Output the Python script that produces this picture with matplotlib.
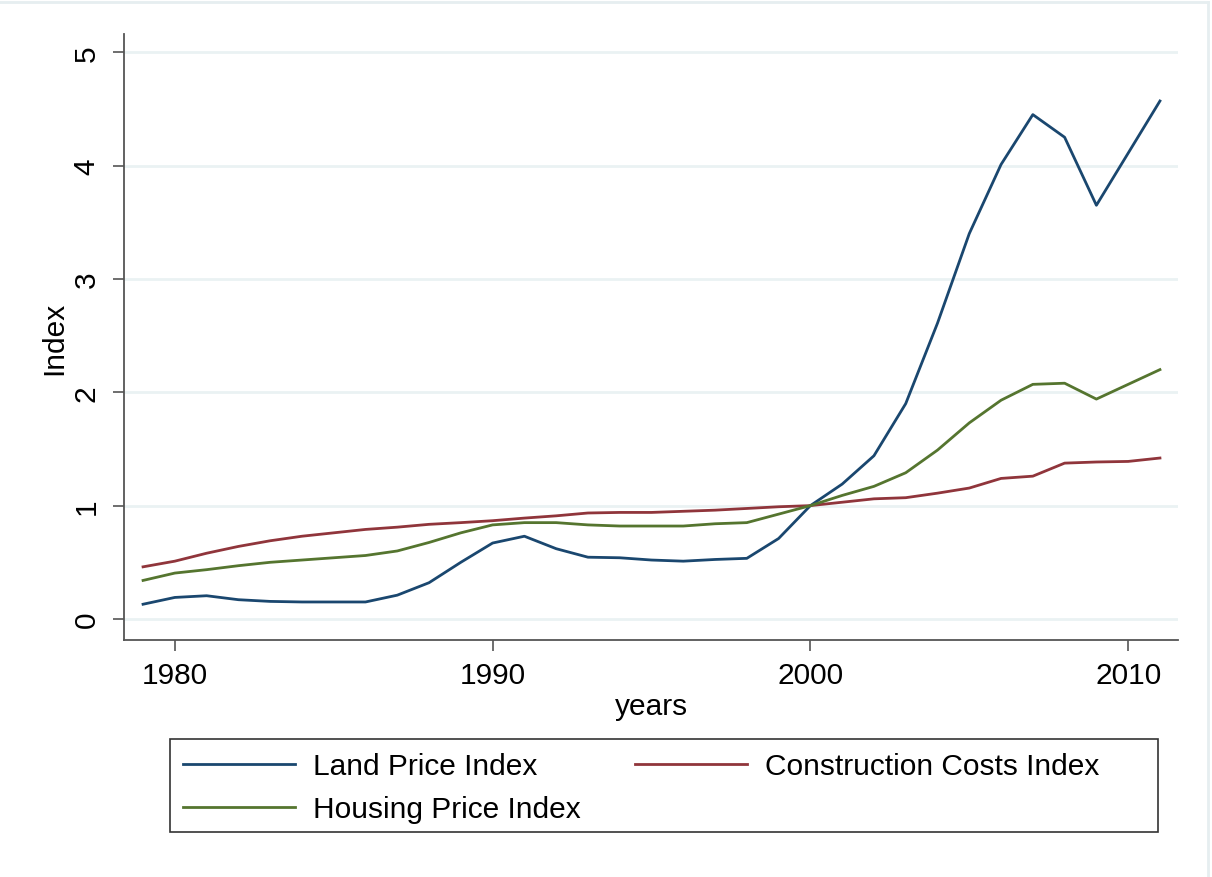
import matplotlib.pyplot as plt
from matplotlib.lines import Line2D
from matplotlib.patches import Rectangle

plt.rcParams['font.family'] = ['Liberation Sans', 'DejaVu Sans']

years = list(range(1979, 2012))

land_price = [0.13, 0.19, 0.205, 0.17, 0.155, 0.15, 0.15, 0.15, 0.21, 0.32, 0.50, 0.67, 0.73,
              0.62, 0.545, 0.54, 0.52, 0.51, 0.525, 0.535, 0.71, 1.00,
              1.19, 1.44, 1.90, 2.61, 3.40, 4.01, 4.45, 4.25, 3.65, 4.11, 4.57]
construction_costs = [0.46, 0.51, 0.58, 0.64, 0.69, 0.73, 0.76, 0.79, 0.81, 0.835, 0.85, 0.867, 0.89,
                      0.91, 0.935, 0.94, 0.94, 0.95, 0.96, 0.975, 0.99, 1.00,
                      1.03, 1.06, 1.07, 1.11, 1.155, 1.24, 1.26, 1.375, 1.385, 1.39, 1.42]
housing_price = [0.34, 0.405, 0.435, 0.47, 0.50, 0.52, 0.54, 0.56, 0.60, 0.675, 0.76, 0.83, 0.85,
                 0.85, 0.83, 0.82, 0.82, 0.82, 0.84, 0.85, 0.925, 1.00,
                 1.09, 1.17, 1.29, 1.49, 1.73, 1.93, 2.07, 2.08, 1.94, 2.07, 2.20]

series_names = ['Land Price Index', 'Construction Costs Index', 'Housing Price Index']
series_colors = ['#1a476f', '#90353b', '#55752f']

W, H = 1212, 878
fig = plt.figure(figsize=(W / 100, H / 100), dpi=100)
ax = fig.add_axes([0.1023, 0.270, 0.8697, 0.690])

lines = []
for vals, name, col in zip([land_price, construction_costs, housing_price], series_names, series_colors):
    ln, = ax.plot(years, vals, color=col, linewidth=2.0, label=name)
    lines.append(ln)

ax.set_xlim(1978.4, 2011.57)
ax.set_ylim(-0.185, 5.16)
ax.set_xticks([1980, 1990, 2000, 2010])
ax.set_yticks([0, 1, 2, 3, 4, 5])
ax.set_yticklabels(['0', '1', '2', '3', '4', '5'], rotation=90, va='center')

ax.yaxis.grid(True, color='#eaf2f3', linewidth=2)
ax.set_axisbelow(True)

for side in ['top', 'right']:
    ax.spines[side].set_visible(False)
for side in ['left', 'bottom']:
    ax.spines[side].set_color('#555555')
    ax.spines[side].set_linewidth(1.3)

ax.tick_params(axis='both', length=8, width=1.2, color='#555555', labelsize=21.5)
ax.tick_params(axis='y', pad=9)
ax.tick_params(axis='x', pad=7)

ax.set_xlabel('years', fontsize=21.5, labelpad=2)
ax.set_ylabel('Index', fontsize=21.5, labelpad=3)

# legend filled row by row: Land, Construction / Housing
order = [0, 2, 1]
box_left, box_top, box_right, box_bottom = 170, 740, 1158, 833
leg = fig.legend([lines[i] for i in order], [series_names[i] for i in order],
                 loc='upper left', bbox_to_anchor=(box_left / W, 1 - box_top / H), ncol=2,
                 fontsize=21.5, frameon=False,
                 handlelength=3.75, handletextpad=0.6, columnspacing=1.8,
                 labelspacing=0.5, borderpad=0.45, borderaxespad=0)

# legend box, wider than its contents on the right
fig.add_artist(Rectangle((box_left / W, 1 - box_bottom / H),
                         (box_right - box_left) / W, (box_bottom - box_top) / H,
                         transform=fig.transFigure, fill=False,
                         edgecolor='#333333', linewidth=1.2))

# faint outer border of the graph region
fig.add_artist(Line2D([0, 0.9967], [0.9966, 0.9966], color='#e6eef0', linewidth=2))
fig.add_artist(Line2D([0.9967, 0.9967], [0, 0.9966], color='#e6eef0', linewidth=2))

fig.savefig('out.png', dpi=100)
